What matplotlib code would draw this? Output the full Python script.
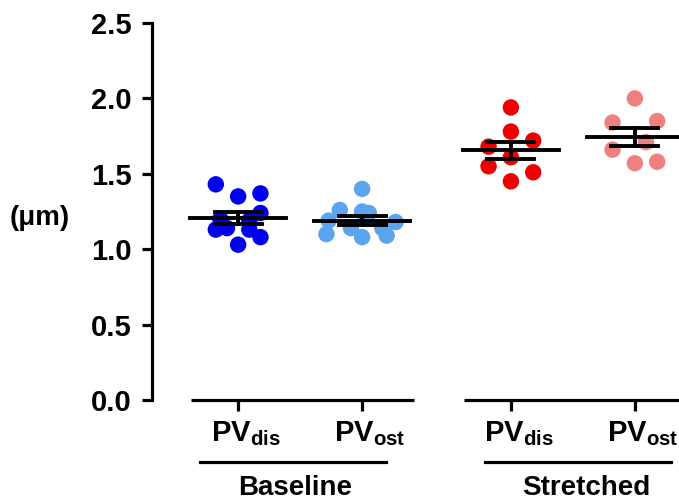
import numpy as np
import matplotlib.pyplot as plt
import matplotlib.transforms as mtransforms

plt.rcParams['font.family'] = ['Liberation Sans', 'DejaVu Sans']
plt.rcParams['font.weight'] = 'bold'
plt.rcParams['mathtext.fontset'] = 'custom'
plt.rcParams['mathtext.rm'] = 'Liberation Sans:bold'
plt.rcParams['mathtext.bf'] = 'Liberation Sans:bold'
plt.rcParams['mathtext.it'] = 'Liberation Sans:bold'

# data --------------------------------------------------------------------
tick_labels = [r'$\mathregular{PV_{dis}}$', r'$\mathregular{PV_{ost}}$',
               r'$\mathregular{PV_{dis}}$', r'$\mathregular{PV_{ost}}$']
conditions = ['Baseline', 'Stretched']

baseline_dis = [1.43, 1.35, 1.37, 1.24, 1.20, 1.19, 1.14, 1.13, 1.13, 1.08, 1.03]
baseline_ost = [1.40, 1.26, 1.25, 1.24, 1.19, 1.18, 1.14, 1.14, 1.10, 1.09, 1.08]
stretched_dis = [1.94, 1.78, 1.72, 1.68, 1.61, 1.55, 1.51, 1.45]
stretched_ost = [2.00, 1.85, 1.84, 1.71, 1.66, 1.58, 1.57]

# swarm column of each point (in marker widths)
baseline_dis_cols = [-1, 0, 1, 1, -0.8, 0.5, -0.5, -1, 0.5, 1, 0]
baseline_ost_cols = [0, -1, 0, 0.3, -1.5, 1.5, -0.5, 0.9, -1.6, 1.1, 0]
stretched_dis_cols = [0, 0, 1, -1, 0, -1, 1, 0]
stretched_ost_cols = [0, 1, -1, 0.5, -1, 1, 0]

series = [baseline_dis, baseline_ost, stretched_dis, stretched_ost]
columns = [baseline_dis_cols, baseline_ost_cols, stretched_dis_cols, stretched_ost_cols]
colors = ['#0000f0', '#5aa5ee', '#ee0000', '#f08080']
positions = [1, 2, 3.2, 4.2]

fig = plt.figure(figsize=(6.79, 5.01), dpi=100)
ax = fig.add_axes([0.224, 0.2016, 0.776, 0.7525])

step = 0.18
lw = 2.3
mlw = 2.8
for pos, vals, cols, c in zip(positions, series, columns, colors):
    vals = np.array(vals)
    xs = pos + step * np.array(cols)
    ax.scatter(xs, vals, s=140, color=c, edgecolors='none', zorder=2)
    mean = vals.mean()
    sem = vals.std(ddof=1) / np.sqrt(len(vals))
    ax.plot([pos - 0.39, pos + 0.39], [mean, mean], color='k', lw=mlw, zorder=3, clip_on=False)
    for v in (mean - sem, mean + sem):
        ax.plot([pos - 0.19, pos + 0.19], [v, v], color='k', lw=mlw, zorder=3, clip_on=False)
    ax.plot([pos, pos], [mean - sem, mean + sem], color='k', lw=mlw, zorder=3)

ax.set_xlim(0.306, 4.556)
ax.set_ylim(0, 2.5)
ax.set_yticks([0, 0.5, 1.0, 1.5, 2.0, 2.5])
ax.set_yticklabels(['0.0', '0.5', '1.0', '1.5', '2.0', '2.5'])
ax.set_xticks(positions)
ax.set_xticklabels(tick_labels)

for s in ['top', 'right', 'bottom']:
    ax.spines[s].set_visible(False)
ax.spines['left'].set_linewidth(lw)
ax.tick_params(axis='y', length=7, width=lw, labelsize=21, pad=8)
ax.tick_params(axis='x', length=8, width=lw, labelsize=21, pad=6)

# labels sit a little right of their ticks in the original
shift = mtransforms.ScaledTranslation(8 / 100, 0, fig.dpi_scale_trans)
for lab in ax.get_xticklabels():
    lab.set_transform(lab.get_transform() + shift)

# broken x axis
ax.plot([0.62, 2.42], [0, 0], color='k', lw=lw, clip_on=False, solid_capstyle='butt')
ax.plot([2.82, 4.7], [0, 0], color='k', lw=lw, clip_on=False, solid_capstyle='butt')

# group underlines and names
ax.plot([0.69, 2.19], [-0.41, -0.41], color='k', lw=lw, clip_on=False)
ax.plot([2.99, 4.49], [-0.41, -0.41], color='k', lw=lw, clip_on=False)
ax.text(1.46, -0.585, conditions[0], ha='center', va='center', fontsize=20, fontweight='bold')
ax.text(3.81, -0.585, conditions[1], ha='center', va='center', fontsize=20, fontweight='bold')

fig.text(40 / 679, 1 - 218 / 501, '(\u03bcm)', ha='center', va='center', fontsize=20, fontweight='bold')

plt.savefig('out.png', dpi=100)
